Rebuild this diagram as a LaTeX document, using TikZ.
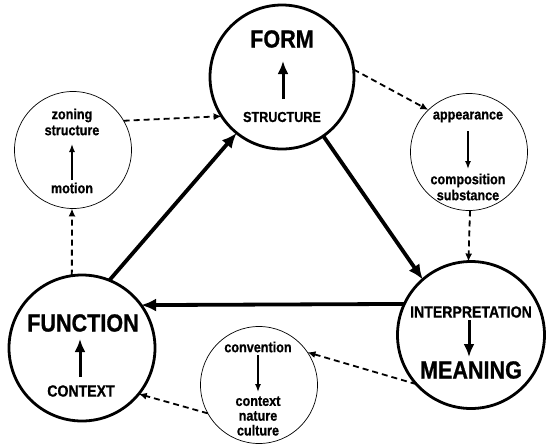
\documentclass[tikz,border=0pt]{standalone}
\usepackage{fontspec}
\newfontfamily\cf[FakeStretch=0.87,FakeBold=0.8]{Liberation Sans}
\usetikzlibrary{arrows.meta}
\begin{document}
\begin{tikzpicture}[x=1pt,y=-1pt,
  bigc/.style={circle,draw,line width=2.8pt,inner sep=0pt,outer sep=0pt},
  smallc/.style={circle,draw,line width=0.7pt,inner sep=0pt,outer sep=0pt,minimum size=117pt},
  bigtxt/.style={inner sep=0pt,font=\cf\bfseries\fontsize{24.8}{26}\selectfont},
  midtxt/.style={inner sep=0pt,font=\cf\bfseries\fontsize{16.2}{18}\selectfont},
  smalltxt/.style={inner sep=0pt,align=center,font=\cf\bfseries\fontsize{14.5}{16}\selectfont},
  mainarrow/.style={line width=3.8pt,-{Latex[length=15pt,width=13pt]}},
  dasharrow/.style={line width=1.8pt,dash pattern=on 6pt off 4pt,-{Latex[length=8pt,width=7pt]}},
  innerbig/.style={line width=3pt,-{Latex[length=13pt,width=11pt]}},
  innersmall/.style={line width=1.4pt,-{Latex[length=8pt,width=6pt]}}]
\path[use as bounding box,fill=white] (0,0) rectangle (550,448);
% big circles
\node[bigc,minimum size=144pt] (form) at (282,77) {};
\node[bigc,minimum size=146pt] (func) at (82,348) {};
\node[bigc,minimum size=147pt] (mean) at (471,335) {};
% small circles
\node[smallc] (zon) at (73,150) {};
\node[smallc] (app) at (469,152) {};
\node[smallc] (conv) at (259,385) {};
% texts in FORM
\node[bigtxt] (formt) at (282,39) {FORM};
\node[inner sep=0pt,font=\cf\bfseries\fontsize{14.5}{16}\selectfont] (struct) at (282,117) {STRUCTURE};
\coordinate (fa1) at (283,99);
\coordinate (fa2) at (283,61);
\draw[innerbig] (fa1) -- (fa2);
% texts in FUNCTION
\node[bigtxt] (funct) at (83,323) {FUNCTION};
\node[midtxt] (ctx) at (81,391) {CONTEXT};
\coordinate (fu1) at (80,377);
\coordinate (fu2) at (80,339);
\draw[innerbig] (fu1) -- (fu2);
% texts in MEANING
\node[midtxt] (interp) at (471,312) {INTERPRETATION};
\node[bigtxt] (meant) at (471,370) {MEANING};
\coordinate (me1) at (469,320);
\coordinate (me2) at (469,357);
\draw[innerbig] (me1) -- (me2);
% zoning circle
\node[smalltxt] (zt) at (72,122) {zoning\\structure};
\node[smalltxt] (mot) at (72,188) {motion};
\coordinate (z1) at (72,180);
\coordinate (z2) at (72,144);
\draw[innersmall] (z1) -- (z2);
% appearance circle
\node[smalltxt] (appt) at (468,117) {appearance};
\node[smalltxt] (comp) at (468,187) {composition\\substance};
\coordinate (a1) at (468,131);
\coordinate (a2) at (468,169);
\draw[innersmall] (a1) -- (a2);
% convention circle
\node[smalltxt] (convt) at (258,347) {convention};
\node[smalltxt,font=\cf\bfseries\fontsize{14.5}{14.8}\selectfont] (cnc) at (258,416) {context\\nature\\culture};
\coordinate (c1) at (258,355);
\coordinate (c2) at (258,392);
\draw[innersmall] (c1) -- (c2);
% main triangle
\draw[mainarrow] (func.68) -- (form.231);
\draw[mainarrow] (form.305) -- (mean.131);
\draw[mainarrow] (mean.155) -- (func.36);
% dashed arrows
\draw[dasharrow] (zon.30) -- (form.213);
\draw[dasharrow] (form.6) -- (app.134);
\draw[dasharrow] (func.98) -- (zon.269);
\draw[dasharrow] (app.271) -- (mean.92);
\draw[dasharrow] (mean.222) -- (conv.34);
\draw[dasharrow] (conv.209) -- (func.321);
\end{tikzpicture}
\end{document}
